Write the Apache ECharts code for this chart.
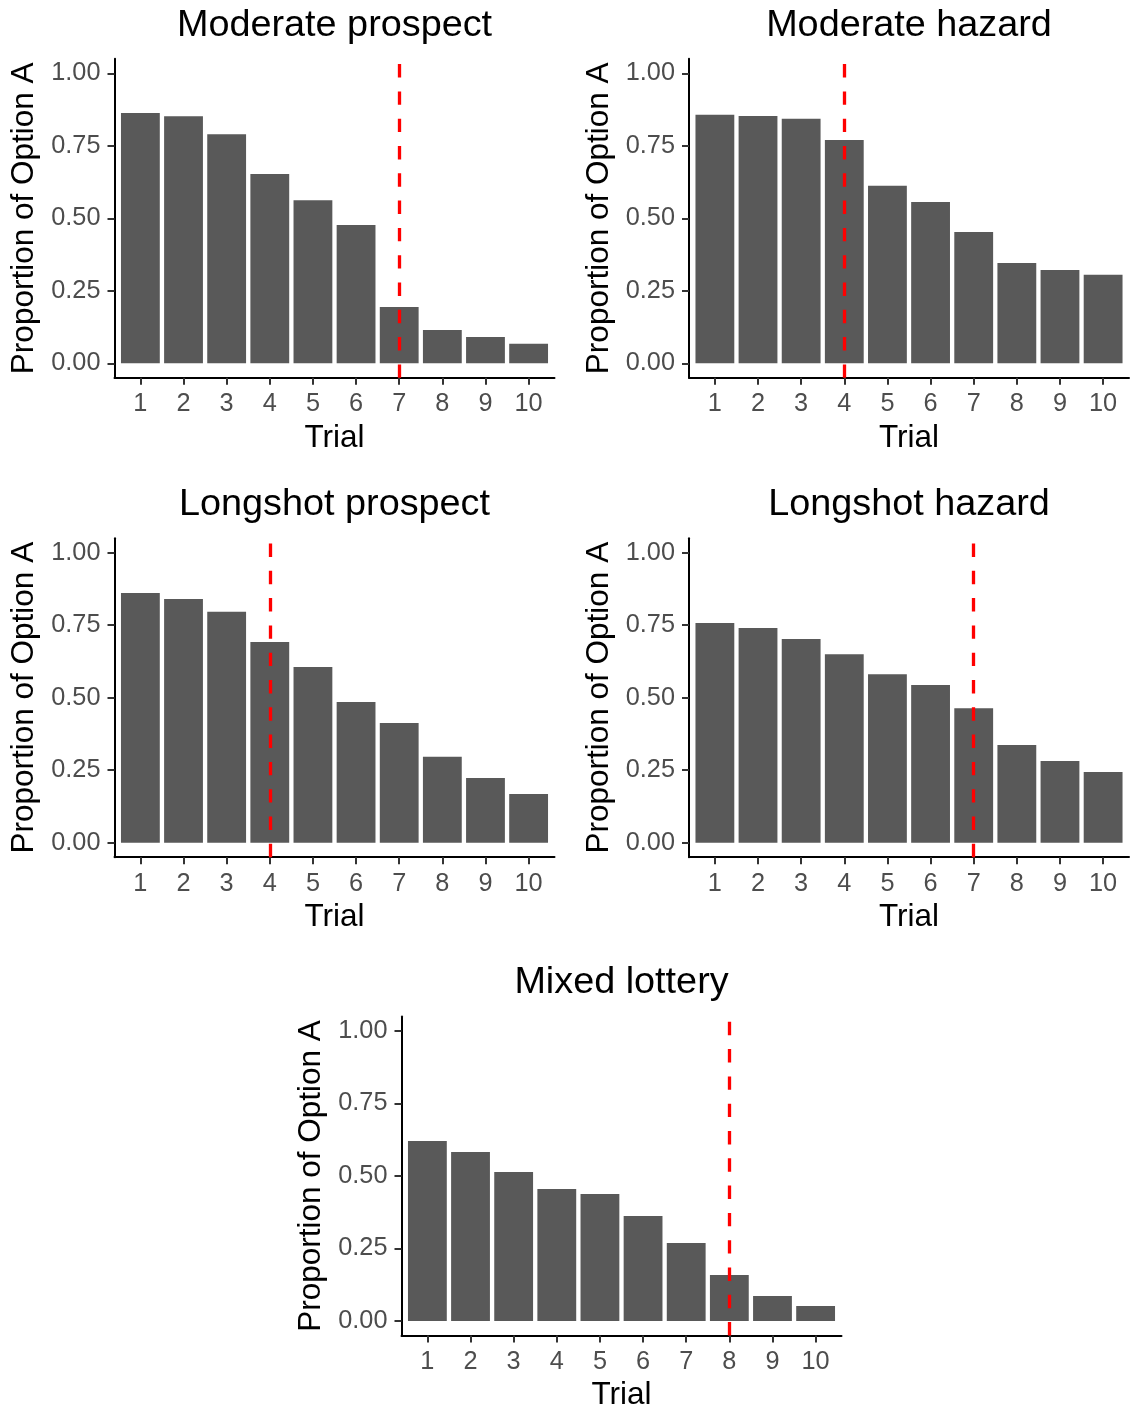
<!DOCTYPE html>
<html>
<head>
<meta charset="utf-8">
<script src="https://cdn.jsdelivr.net/npm/echarts@6/dist/echarts.min.js"></script>
<style>
html,body{margin:0;padding:0;background:#fff;}
#chart{width:1138px;height:1410px;}
</style>
</head>
<body>
<div id="chart"></div>
<script>
// ---- data ----
const trials = [1, 2, 3, 4, 5, 6, 7, 8, 9, 10];
const yTicks = [0, 0.25, 0.5, 0.75, 1];
const panelTitles = ['Moderate prospect', 'Moderate hazard', 'Longshot prospect', 'Longshot hazard', 'Mixed lottery'];
const moderateProspect = [0.863, 0.852, 0.790, 0.653, 0.562, 0.477, 0.194, 0.115, 0.091, 0.067];
const moderateHazard   = [0.857, 0.853, 0.843, 0.770, 0.612, 0.556, 0.453, 0.346, 0.322, 0.305];
const longshotProspect = [0.861, 0.840, 0.796, 0.692, 0.606, 0.485, 0.413, 0.296, 0.223, 0.168];
const longshotHazard   = [0.758, 0.740, 0.702, 0.650, 0.581, 0.544, 0.464, 0.337, 0.282, 0.244];
const mixedLottery     = [0.621, 0.583, 0.514, 0.455, 0.438, 0.362, 0.269, 0.159, 0.086, 0.052];
const cutoffTrials = [7, 4, 4, 7, 8];
const xTitle = 'Trial';
const yTitle = 'Proportion of Option A';

const seriesValues = [moderateProspect, moderateHazard, longshotProspect, longshotHazard, mixedLottery];

// ---- layout (pixels) ----
const panelW = 440, panelH = 319;
const panelPos = [
  {left: 114.5, top: 58.8},
  {left: 689,   top: 58.8},
  {left: 114.5, top: 538.2},
  {left: 689,   top: 538.2},
  {left: 401.5, top: 1016.5}
];
const FONT = '"Liberation Sans", Arial, Helvetica, sans-serif';
const titleSize = 37.8, axisTitleSize = 31.5, tickSize = 25.3;

const grids = [], xAxes = [], yAxes = [], series = [], titles = [];
panelPos.forEach((p, i) => {
  grids.push({left: p.left, top: p.top, width: panelW, height: panelH, containLabel: false, outerBoundsMode: 'none'});
  titles.push({
    text: panelTitles[i],
    left: p.left + panelW / 2,
    top: p.top - 52.5,
    textAlign: 'center',
    padding: 0,
    textStyle: {fontFamily: FONT, fontSize: titleSize, fontWeight: 'normal', color: '#000', lineHeight: titleSize}
  });
  xAxes.push({
    type: 'value', gridIndex: i, min: 0.4, max: 10.6,
    name: xTitle, nameLocation: 'middle', nameGap: 44.5,
    nameTextStyle: {fontFamily: FONT, fontSize: axisTitleSize, color: '#000', lineHeight: axisTitleSize},
    axisLine: {show: true, onZero: false, lineStyle: {color: '#000', width: 2}},
    axisTick: {show: true, length: 7, customValues: trials, lineStyle: {color: '#333333', width: 2}},
    axisLabel: {show: true, margin: 14, customValues: trials, fontFamily: FONT, fontSize: tickSize, color: '#4D4D4D',
      formatter: v => String(v)},
    splitLine: {show: false}
  });
  yAxes.push({
    type: 'value', gridIndex: i, min: -0.05, max: 1.05,
    name: yTitle, nameLocation: 'middle', nameGap: 74,
    nameTextStyle: {fontFamily: FONT, fontSize: axisTitleSize, color: '#000', lineHeight: axisTitleSize},
    axisLine: {show: true, onZero: false, lineStyle: {color: '#000', width: 2}},
    axisTick: {show: true, length: 7, customValues: yTicks, lineStyle: {color: '#333333', width: 2}},
    axisLabel: {show: true, margin: 14, customValues: yTicks, fontFamily: FONT, fontSize: tickSize, color: '#4D4D4D',
      formatter: v => Number(v).toFixed(2)},
    splitLine: {show: false}
  });
  series.push({
    type: 'bar', xAxisIndex: i, yAxisIndex: i,
    data: trials.map((t, k) => [t, seriesValues[i][k]]),
    barWidth: '90%',
    itemStyle: {color: '#595959'},
    silent: true,
    markLine: {
      silent: true, symbol: ['none', 'none'],
      label: {show: false},
      lineStyle: {color: '#FF0000', width: 3.3, type: [13.4, 13.9], opacity: 1},
      emphasis: {disabled: true},
      data: [{xAxis: cutoffTrials[i]}]
    }
  });
});

const chart = echarts.init(document.getElementById('chart'), null, {renderer: 'canvas'});
chart.setOption({
  animation: false,
  backgroundColor: '#ffffff',
  title: titles,
  grid: grids,
  xAxis: xAxes,
  yAxis: yAxes,
  series: series
});
</script>
</body>
</html>
